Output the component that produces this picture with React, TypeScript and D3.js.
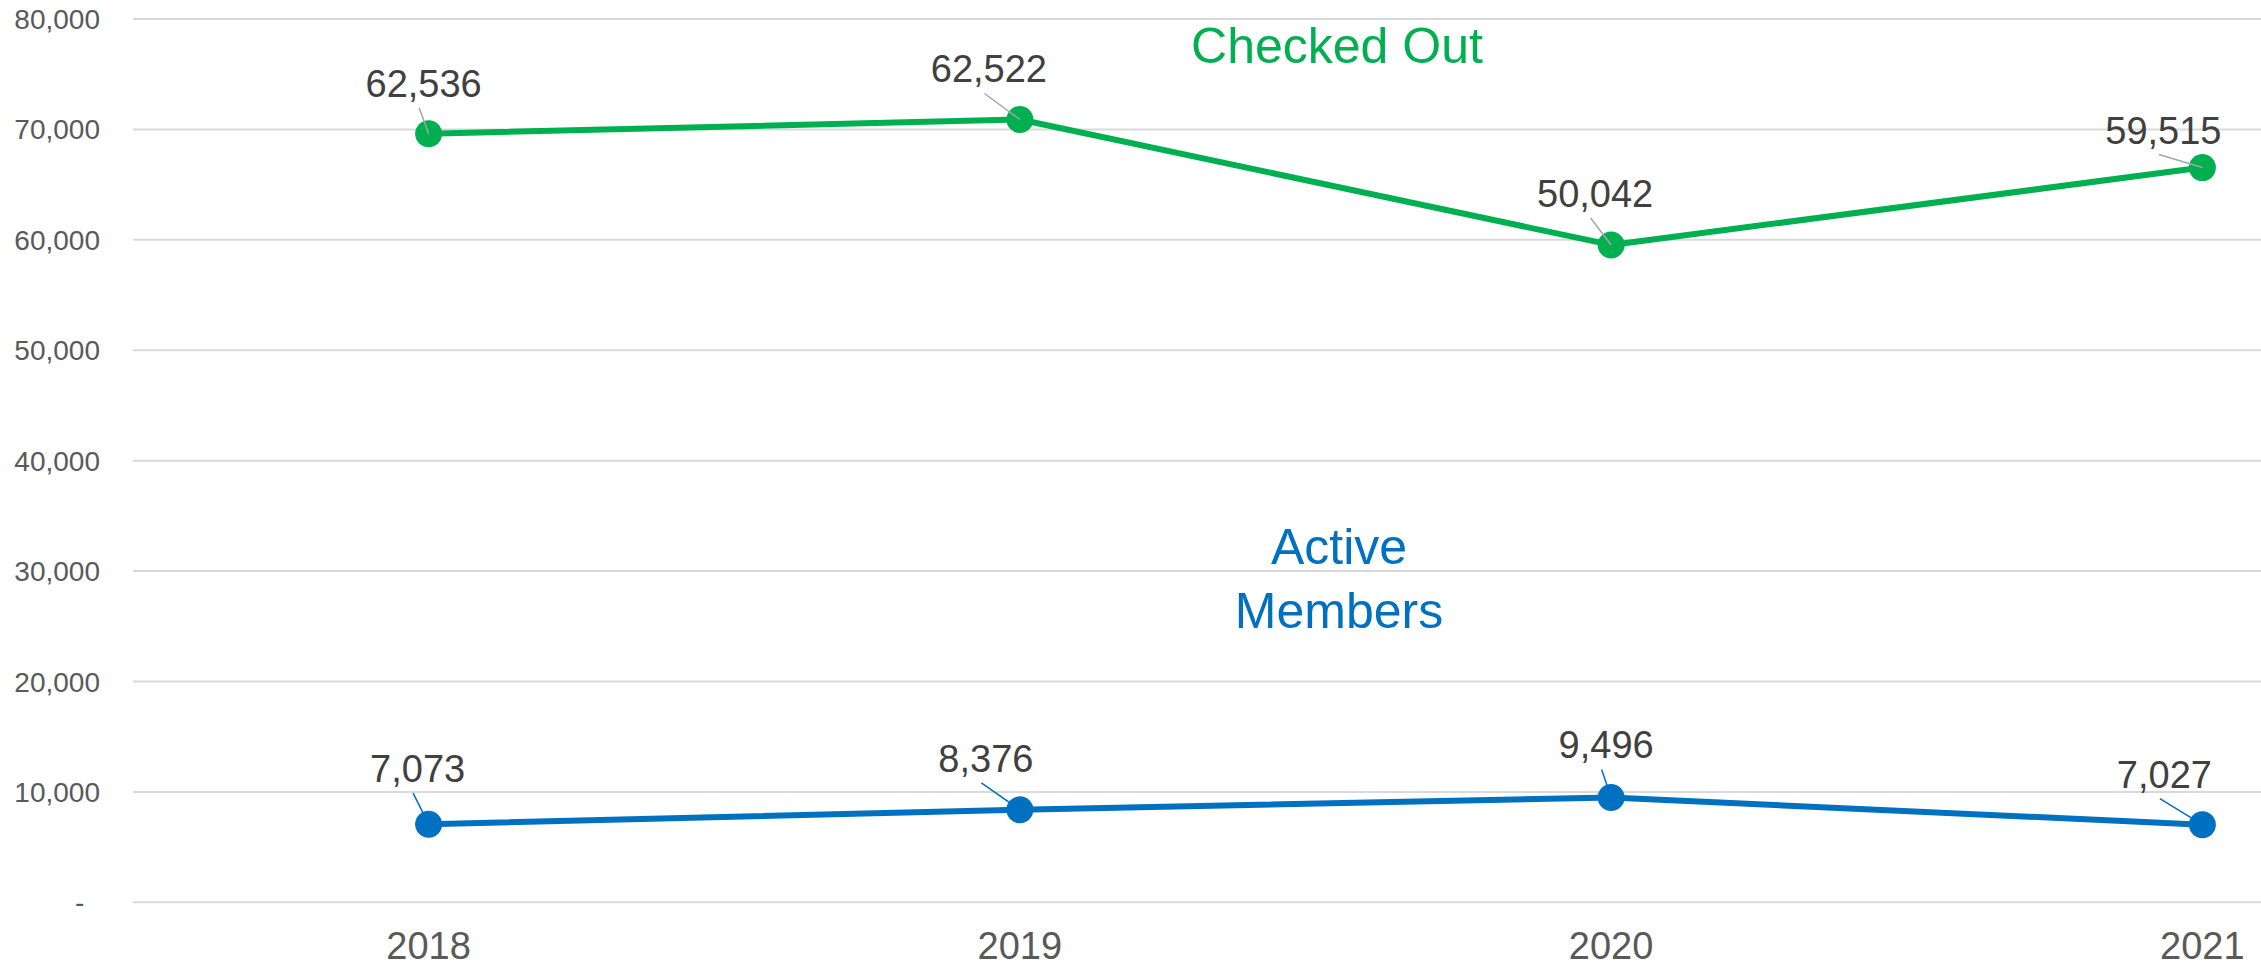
import React from "react";
import * as d3 from "d3";

const years = ["2018", "2019", "2020", "2021"];
const activeMembers = [7073, 8376, 9496, 7027];
const itemsCheckedOut = [62536, 62522, 50042, 59515];
const yTicks = [0, 10000, 20000, 30000, 40000, 50000, 60000, 70000, 80000];

// label placement (manual offsets of data labels from their points, px)
const memberLabelOffsets: [number, number][] = [[-11, -42], [-34, -38], [-5, -39], [-38, -37]];
const itemLabelOffsets: [number, number][] = [[-5, -37], [-31, -37], [-16, -38], [-39, -24]];

const W = 2261;
const H = 967;
const GREEN = "#00b050";
const BLUE = "#0070c0";
const FONT = "'Liberation Sans', Arial, sans-serif";

export default function App() {
  const rows = years.map((yr, i) => ({ year: yr, members: activeMembers[i], items: itemsCheckedOut[i] }));
  const stacked = d3.stack<any>().keys(["members", "items"])(rows);

  const x = d3.scaleBand().domain(years).range([133, 2498]).padding(0);
  const cx = (yr: string) => (x(yr) as number) + x.bandwidth() / 2;
  const y = d3.scaleLinear().domain([0, 80000]).range([902.3, 19]);

  const fmt = d3.format(",");
  const tickFmt = (v: number) => (v === 0 ? "-\u00A0\u00A0" : fmt(v));

  const line = d3
    .line<any>()
    .x((d) => cx(d.data.year))
    .y((d) => y(d[1]));

  const series = [
    { layer: stacked[0], color: BLUE, leader: BLUE, values: activeMembers, offsets: memberLabelOffsets },
    { layer: stacked[1], color: GREEN, leader: "#a6a6a6", values: itemsCheckedOut, offsets: itemLabelOffsets },
  ];

  return (
    <svg
      width={W}
      height={H}
      style={{ position: "absolute", left: 0, top: 0, background: "#fff" }}
      fontFamily={FONT}
    >
      <rect x={0} y={0} width={W} height={H} fill="#fff" />
      {yTicks.map((t) => (
        <g key={t}>
          <line x1={133} x2={2498} y1={y(t)} y2={y(t)} stroke="#d9d9d9" strokeWidth={2} />
          <text x={100} y={y(t)} dy="0.36em" textAnchor="end" fontSize={28} fill="#595959">
            {tickFmt(t)}
          </text>
        </g>
      ))}
      {years.map((yr) => (
        <text key={yr} x={cx(yr)} y={959} textAnchor="middle" fontSize={38} fill="#595959">
          {yr}
        </text>
      ))}
      {series.map((s, si) => (
        <g key={si}>
          <path d={line(s.layer as any) || ""} fill="none" stroke={s.color} strokeWidth={6} strokeLinejoin="round" />
          {s.layer.map((d: any, i: number) => (
            <circle key={i} cx={cx(d.data.year)} cy={y(d[1])} r={13.5} fill={s.color} />
          ))}
          {s.layer.map((d: any, i: number) => {
            const px = cx(d.data.year);
            const py = y(d[1]);
            const lx = px + s.offsets[i][0];
            const ly = py + s.offsets[i][1];
            return (
              <g key={"l" + i}>
                <line x1={lx - 4.5} y1={ly + 11} x2={px} y2={py} stroke={s.leader} strokeWidth={1.5} />
                <text x={lx} y={ly} textAnchor="middle" fontSize={38} fill="#404040">
                  {fmt(s.values[i])}
                </text>
              </g>
            );
          })}
        </g>
      ))}
      <text x={1337} y={63} textAnchor="middle" fontSize={50} fill={GREEN}>
        Checked Out
      </text>
      <text x={1339} y={564} textAnchor="middle" fontSize={50} fill={BLUE}>
        Active
      </text>
      <text x={1339} y={628} textAnchor="middle" fontSize={50} fill={BLUE}>
        Members
      </text>
    </svg>
  );
}
